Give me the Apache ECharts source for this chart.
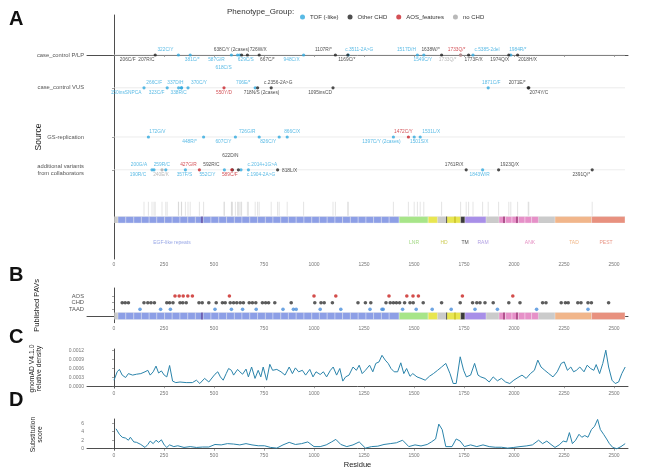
<!DOCTYPE html>
<html>
<head>
<meta charset="utf-8">
<script src="https://cdn.jsdelivr.net/npm/echarts@6/dist/echarts.min.js"></script>
<style>
html, body { margin: 0; padding: 0; background: #fff; }
#main { width: 649px; height: 470px; }
</style>
</head>
<body>
<div id="main"></div>
<script>
var proteinLength = 2555;
var xTicks = [0, 250, 500, 750, 1000, 1250, 1500, 1750, 2000, 2250, 2500];

var groupNames = ['TOF (-like)', 'Other CHD', 'AOS_features', 'no CHD'];
var groupColors = ['#2fa9de', '#222222', '#c8232b', '#a8a8a8'];

var sourceNames = ['case_control P/LP', 'case_control VUS', 'GS-replication', 'additional variants\nfrom collaborators'];

// groups: 0 TOF, 1 other CHD, 2 AOS, 3 no CHD
var plpPos = [206, 322, 381, 587, 618, 629, 638, 667, 726, 948, 1107, 1171, 1169, 1517, 1549, 1638, 1733, 1733, 1773, 1795, 1974, 1984, 2018];
var plpText = ['206C/F  207R/C', '322C/Y', '381C/*', '587G/R', '618C/S', '629C/S', '638C/Y (2cases)', '667C/*', '726W/X', '948C/X', '1107R/*', 'c.3511-2A>G', '1169C/*', '1517D/H', '1549C/Y', '1638W/*', '1733Q/*', '1733Q/*', '1773F/X', 'c.5385-2del', '1974Q/X', '1984R/*', '2018H/X'];
var plpGroup = [1, 0, 0, 0, 0, 0, 1, 1, 1, 0, 1, 0, 1, 0, 0, 1, 2, 3, 1, 0, 1, 0, 1];

var vusPos = [150, 266, 323, 337, 338, 370, 550, 706, 718, 786, 1095, 1871, 2071, 2074];
var vusText = ['150insSNPCA', '266C/F', '323C/F', '337D/H', '338R/C', '370C/Y', '550Y/D', '706E/*', '718N/S (2cases)', 'c.2356-2A>G', '1095insCD', '1871C/F', '2071E/*', '2074Y/C'];
var vusGroup = [0, 0, 0, 0, 0, 0, 2, 0, 1, 1, 1, 0, 1, 1];

var gsPos = [172, 448, 607, 726, 826, 866, 1397, 1472, 1501, 1531];
var gsText = ['172G/V', '448R/*', '607C/Y', '726G/R', '826C/Y', '866C/X', '1397C/Y (2cases)', '1472C/Y', '1501S/X', '1531L/X'];
var gsGroup = [0, 0, 0, 0, 0, 0, 0, 2, 0, 0];

var addPos = [200, 190, 259, 240, 357, 427, 552, 592, 589, 622, 672, 635, 818, 1761, 1843, 1923, 2391];
var addText = ['200G/A', '190R/C', '259R/C', '240E/K', '357F/S', '427G/R', '552C/Y', '592R/C', '589C/F', '622D/N', 'c.2014+1G>A', 'c.1904-2A>G', '818L/X', '1761R/X', '1843W/R', '1923Q/X', '2391Q/*'];
var addGroup = [0, 0, 0, 3, 0, 2, 0, 1, 2, 1, 0, 0, 1, 1, 0, 1, 1];

// published PAVs (panel B)
var pavAOS = [305, 326, 346, 369, 392, 577, 1000, 1109, 1375, 1464, 1495, 1522, 1742, 1994];
var pavCHD = [41, 56, 72, 150, 169, 185, 202, 264, 278, 295, 330, 344, 361, 425, 441, 474, 511, 542, 556, 581, 598, 614, 631, 647, 676, 692, 709, 742, 758, 773, 804, 886, 1004, 1035, 1051, 1092, 1220, 1257, 1284, 1360, 1381, 1397, 1412, 1428, 1453, 1480, 1496, 1546, 1638, 1731, 1793, 1814, 1830, 1855, 1896, 1974, 2030, 2143, 2160, 2236, 2257, 2271, 2319, 2335, 2370, 2387, 2473];
var pavTAAD = [130, 233, 282, 505, 587, 643, 711, 845, 897, 911, 1031, 1134, 1280, 1340, 1346, 1443, 1511, 1591, 1686, 1805, 1917, 2113, 2370];
var pavNames = ['TAAD', 'CHD', 'AOS'];

// domains
var egfRepeatStart = [20, 59, 99, 137, 176, 214, 253, 291, 330, 369, 407, 446, 485, 524, 563, 602, 640, 679, 718, 757, 795, 834, 872, 911, 950, 989, 1027, 1066, 1105, 1143, 1182, 1221, 1260, 1298, 1337, 1376, 1426];
var ankRepeatStart = [1925, 1958, 1990, 2022, 2055, 2088, 2122];
var domainSegName = ['LNR', 'HD', 'HD', 'TM', 'RAM', 'TAD', 'PEST'];
var domainSegStart = [1426, 1571, 1663, 1733, 1755, 2205, 2388];
var domainSegEnd = [1571, 1617, 1733, 1755, 1860, 2388, 2555];
var markRes = [440, 1663, 1705, 1950, 2015];
var markDomain = ['EGF', 'HD', 'HDlight', 'ANK', 'ANK'];
var domainLabel = ['EGF-like repeats', 'LNR', 'HD', 'TM', 'RAM', 'ANK', 'TAD', 'PEST'];
var domainLabelKey = ['EGF', 'LNR', 'HD', 'TM', 'RAM', 'ANK', 'TAD', 'PEST'];
var domainLabelAt = [290, 1500, 1650, 1755, 1845, 2080, 2300, 2460];

// gnomAD v4.1.0 relative density (panel C)
var gnomadDensity = [[0, 0.0002], [16, 0.00048], [27, 0.00056], [41, 0.00037], [58, 0.00029], [72, 0.00042], [93, 0.00037], [113, 0.0004], [134, 0.00042], [155, 0.00048], [169, 0.00053], [181, 0.00037], [196, 0.00048], [210, 0.00067], [223, 0.00044], [237, 0.00051], [251, 0.00037], [264, 0.00031], [278, 0.00069], [293, 0.00017], [309, 0.00012], [330, 0.00014], [361, 0.00012], [392, 0.00012], [412, 0.0002], [429, 0.00009], [453, 0.00026], [474, 0.00014], [505, 0.0004], [519, 0.00048], [532, 0.00031], [546, 0.0002], [561, 0.00042], [573, 0.00059], [587, 0.00053], [598, 0.00037], [618, 0.00056], [629, 0.00048], [643, 0.0004], [660, 0.00057], [672, 0.00031], [688, 0.00064], [705, 0.00026], [721, 0.00053], [734, 0.00031], [746, 0.00064], [763, 0.0002], [779, 0.00073], [793, 0.00053], [814, 0.00056], [835, 0.00048], [855, 0.00037], [876, 0.00064], [892, 0.00042], [907, 0.00061], [923, 0.00048], [942, 0.00053], [958, 0.00037], [979, 0.00056], [995, 0.00031], [1010, 0.00048], [1031, 0.00039], [1047, 0.00048], [1063, 0.00031], [1082, 0.00053], [1096, 0.00064], [1113, 0.00037], [1129, 0.00059], [1144, 0.00017], [1158, 0.00031], [1175, 0.00037], [1195, 0.00064], [1212, 0.00053], [1226, 0.0007], [1241, 0.00042], [1257, 0.00053], [1278, 0.0007], [1294, 0.00048], [1309, 0.00076], [1325, 0.00081], [1340, 0.00103], [1356, 0.00087], [1371, 0.00076], [1385, 0.00059], [1401, 0.00048], [1418, 0.00048], [1434, 0.00078], [1449, 0.00042], [1463, 0.00059], [1480, 0.00033], [1494, 0.00042], [1515, 0.00031], [1535, 0.00026], [1556, 0.0002], [1577, 0.00033], [1597, 0.00042], [1618, 0.00053], [1638, 0.00064], [1659, 0.00076], [1680, 0.00042], [1696, 0.00009], [1711, 0.00009], [1731, 0.00098], [1748, 0.00053], [1762, 0.00031], [1783, 0.00037], [1803, 0.00076], [1820, 0.00037], [1834, 0.00031], [1855, 0.00026], [1876, 0.00014], [1896, 0.00031], [1917, 0.00018], [1937, 0.00026], [1958, 0.00014], [1979, 0.00009], [1999, 0.0002], [2020, 0.00029], [2040, 0.00037], [2061, 0.00026], [2082, 0.00042], [2102, 0.00053], [2119, 0.00087], [2135, 0.00064], [2154, 0.00053], [2174, 0.00042], [2195, 0.00031], [2216, 0.00048], [2236, 0.00076], [2251, 0.00081], [2267, 0.00053], [2284, 0.00064], [2298, 0.00048], [2312, 0.00053], [2329, 0.00064], [2350, 0.00048], [2366, 0.0007], [2383, 0.00059], [2399, 0.00053], [2411, 0.00072], [2428, 0.00042], [2444, 0.00076], [2459, 0.0012], [2473, 0.00064], [2490, 0.0002], [2506, 0.00009], [2523, 0.00014], [2539, 0.00042], [2556, 0.00064]];

// substitution score (panel D)
var substitutionScore = [[10, 4.7], [16, 4.4], [27, 3.4], [41, 2.7], [58, 2.5], [72, 2.0], [82, 2.7], [99, 1.6], [113, 1.5], [134, 1.0], [155, 0.3], [169, 1.0], [181, 1.8], [196, 1.2], [210, 2.0], [223, 1.5], [237, 2.1], [251, 0.9], [264, 0.3], [278, 0.9], [299, 0.5], [319, 0.7], [350, 0.3], [381, 0.5], [412, 0.3], [443, 0.4], [474, 0.4], [505, 1.0], [536, 0.9], [567, 1.2], [598, 1.1], [629, 0.9], [660, 1.2], [690, 0.9], [721, 0.7], [752, 0.7], [783, 0.3], [814, 0.15], [845, 0.9], [876, 1.5], [907, 1.0], [938, 1.2], [969, 1.6], [1000, 0.5], [1031, 0.5], [1061, 0.9], [1088, 1.6], [1109, 2.2], [1134, 1.0], [1164, 0.5], [1195, 0.9], [1226, 1.6], [1257, 0.15], [1288, 0.5], [1319, 0.6], [1350, 1.0], [1381, 1.2], [1412, 1.4], [1443, 2.0], [1474, 0.5], [1505, 0.9], [1535, 0.65], [1566, 1.0], [1587, 1.6], [1608, 2.3], [1624, 5.8], [1641, 4.5], [1659, 0.5], [1690, 0.5], [1711, 2.3], [1731, 1.8], [1752, 0.5], [1783, 0.9], [1814, 0.5], [1845, 0.9], [1876, 0.5], [1906, 0.35], [1937, 0.35], [1968, 0.15], [1999, 0.3], [2030, 0.5], [2061, 0.65], [2092, 0.9], [2123, 2.0], [2143, 1.2], [2164, 1.8], [2185, 1.0], [2205, 0.3], [2226, 0.9], [2246, 1.8], [2263, 1.6], [2277, 3.8], [2292, 1.2], [2308, 2.0], [2325, 3.4], [2339, 2.7], [2354, 3.1], [2370, 2.7], [2387, 4.5], [2403, 5.3], [2418, 6.9], [2432, 4.5], [2448, 3.4], [2463, 2.3], [2477, 1.2], [2494, 0.3], [2514, 0.0], [2535, 0.5], [2556, 1.2]];

/* ---------- layout (not data) ---------- */
var FONT = 'Liberation Sans, Arial, sans-serif';
var trackY = [0, 2, 5, 7];
// label nudges in px [dx, dy]
var plpNudge = [[-18, 5], [-13, -5], [2, 5], [-15, 5], [-14, 13], [6, 5], [-10, -5], [20, 5], [-1, -5], [-12, 5], [-12, -5], [11, -5], [-1, 5], [-11, -5], [-1, 5], [-11, -5], [-4, -5], [-13, 5], [5, 5], [14, -5], [-9, 5], [7, -5], [10, 5]];
var vusNudge = [[-18, 5], [-13, -5], [-22, 5], [-6, -5], [-3, 5], [11, -5], [0, 5], [-12, -5], [4, 5], [7, -5], [-13, 5], [3, -5], [-11, -5], [10, 5]];
var gsNudge = [[9, -5], [-14, 5], [-12, 5], [-12, -5], [-11, 5], [5, -5], [-12, 5], [-5, -5], [5, 5], [11, -5]];
var addNudge = [[-15, -5], [-14, 5], [-4, -5], [-1, 5], [-1, 5], [-11, -5], [-17, 5], [-21, -5], [-2, 5], [-8, -14], [14, -5], [20, 5], [12, 1], [-12, -5], [-3, 5], [11, -5], [-11, 5]];

var domainColor = { none: '#cbcbcb', EGF: '#8d9fe6', LNR: '#a7e589', HD: '#e8e650', TM: '#3a3a3a', RAM: '#a88fe8', ANK: '#e690c8', TAD: '#f1b68b', PEST: '#e8917f' };
var domainTextColor = { EGF: '#7d90e0', LNR: '#8ccf66', HD: '#c4c233', TM: '#222222', RAM: '#9c86dc', ANK: '#de72b3', TAD: '#eda266', PEST: '#e27a66' };
var markColor = { EGF: '#4a2581', HD: '#555555', HDlight: '#b8ad10', ANK: '#7c1152' };

var rows = [
  { pos: plpPos, text: plpText, group: plpGroup, nudge: plpNudge },
  { pos: vusPos, text: vusText, group: vusGroup, nudge: vusNudge },
  { pos: gsPos, text: gsText, group: gsGroup, nudge: gsNudge },
  { pos: addPos, text: addText, group: addGroup, nudge: addNudge }
];

var barSegments = [{ start: 1, end: proteinLength, key: 'none' }];
for (var i = 0; i < egfRepeatStart.length - 1; i++) {
  barSegments.push({ start: egfRepeatStart[i], end: egfRepeatStart[i + 1], key: 'EGF' });
}
for (i = 0; i < ankRepeatStart.length - 1; i++) {
  barSegments.push({ start: ankRepeatStart[i], end: ankRepeatStart[i + 1], key: 'ANK' });
}
for (i = 0; i < domainSegName.length; i++) {
  barSegments.push({ start: domainSegStart[i], end: domainSegEnd[i], key: domainSegName[i] });
}

function domainBar(ai, yv, h) {
  return {
    type: 'custom', xAxisIndex: ai, yAxisIndex: ai, silent: true, z: 2,
    data: barSegments.map(function (s) { return [s.start, s.end, yv]; }),
    renderItem: function (params, api) {
      var s = barSegments[params.dataIndex];
      var a = api.coord([api.value(0), api.value(2)]);
      var b = api.coord([api.value(1), api.value(2)]);
      return {
        type: 'rect',
        shape: { x: a[0], y: a[1] - h / 2, width: b[0] - a[0], height: h },
        style: { fill: domainColor[s.key], stroke: s.key === 'none' ? null : 'rgba(255,255,255,0.85)', lineWidth: 0.4 }
      };
    }
  };
}

function domainMarks(ai, yv, h) {
  return {
    type: 'custom', xAxisIndex: ai, yAxisIndex: ai, silent: true, z: 3,
    data: markRes.map(function (r) { return [r, yv]; }),
    renderItem: function (params, api) {
      var p = api.coord([api.value(0), api.value(1)]);
      return {
        type: 'line',
        shape: { x1: p[0], y1: p[1] - h / 2, x2: p[0], y2: p[1] + h / 2 },
        style: { stroke: markColor[markDomain[params.dataIndex]], lineWidth: 1 }
      };
    }
  };
}

function xAxisFor(gi, extra) {
  var ax = {
    type: 'value', gridIndex: gi, min: -135, max: 2570,
    axisLine: { show: true, lineStyle: { color: '#3a3a3a', width: 0.9 } },
    axisTick: { show: true, customValues: xTicks, length: 2, lineStyle: { color: '#666', width: 0.6 } },
    axisLabel: {
      customValues: xTicks, fontSize: 5, color: '#777', margin: 3, fontFamily: FONT,
      formatter: function (v) { return String(v); }
    },
    splitLine: { show: false }
  };
  for (var k in extra) ax[k] = extra[k];
  return ax;
}

var variantSeries = groupNames.map(function (g, gi) {
  var data = [];
  rows.forEach(function (row, ri) {
    row.pos.forEach(function (p, k) {
      if (row.group[k] !== gi) return;
      data.push({ value: [p, trackY[ri]], label: { formatter: row.text[k], offset: row.nudge[k] } });
    });
  });
  return {
    name: g, type: 'scatter', xAxisIndex: 0, yAxisIndex: 0, symbolSize: 3.2, z: 6,
    itemStyle: { color: groupColors[gi] },
    label: { show: true, position: 'inside', fontSize: 4.8, color: groupColors[gi], fontFamily: FONT },
    data: data
  };
});

var allPos = [];
rows.forEach(function (row) { row.pos.forEach(function (p) { if (allPos.indexOf(p) < 0) allPos.push(p); }); });

var chart = echarts.init(document.getElementById('main'), null, { renderer: 'canvas' });

var option = {
  animation: false,
  backgroundColor: '#fff',
  textStyle: { fontFamily: FONT },
  legend: {
    data: groupNames, left: 295, top: 9, icon: 'circle', itemWidth: 5, itemHeight: 5, itemGap: 9,
    textStyle: { fontSize: 6, color: '#333', fontFamily: FONT }
  },
  graphic: [
    { type: 'text', left: 227, top: 8, style: { text: 'Phenotype_Group:', font: '8px ' + FONT, fill: '#333' } },
    { type: 'text', left: 9, top: 9, style: { text: 'A', font: 'bold 20px ' + FONT, fill: '#111' } },
    { type: 'text', left: 9, top: 265, style: { text: 'B', font: 'bold 20px ' + FONT, fill: '#111' } },
    { type: 'text', left: 9, top: 327, style: { text: 'C', font: 'bold 20px ' + FONT, fill: '#111' } },
    { type: 'text', left: 9, top: 390, style: { text: 'D', font: 'bold 20px ' + FONT, fill: '#111' } }
  ],
  grid: [
    { left: 87, top: 15, width: 541, height: 244 },
    { left: 87, top: 288, width: 541, height: 34.7 },
    { left: 87, top: 349, width: 541, height: 39 },
    { left: 87, top: 419, width: 541, height: 33 }
  ],
  xAxis: [
    xAxisFor(0, {}),
    xAxisFor(1, {}),
    xAxisFor(2, {}),
    xAxisFor(3, { name: 'Residue', nameLocation: 'middle', nameGap: 11, nameMoveOverlap: false, nameTextStyle: { fontSize: 7.5, color: '#222', fontFamily: FONT } })
  ],
  yAxis: [
    {
      type: 'value', gridIndex: 0, inverse: true, min: -2.44, max: 12.44,
      axisLine: { show: true, lineStyle: { color: '#3a3a3a', width: 0.9 } },
      axisTick: { show: true, customValues: trackY, length: 2, lineStyle: { color: '#666', width: 0.6 } },
      axisLabel: {
        customValues: trackY, fontSize: 5.8, color: '#555', margin: 3, lineHeight: 6.5, fontFamily: FONT,
        formatter: function (v) { return sourceNames[trackY.indexOf(v)]; }
      },
      splitLine: { show: false },
      name: 'Source', nameLocation: 'middle', nameGap: 44, nameMoveOverlap: false,
      nameTextStyle: { fontSize: 8.5, color: '#222', fontFamily: FONT }
    },
    {
      type: 'value', gridIndex: 1, min: -1, max: 4.2,
      axisLine: { show: true, lineStyle: { color: '#3a3a3a', width: 0.9 } },
      axisTick: { show: true, customValues: [1, 2, 3], length: 2, lineStyle: { color: '#666', width: 0.6 } },
      axisLabel: {
        customValues: [1, 2, 3], fontSize: 5.8, color: '#555', margin: 3, fontFamily: FONT,
        formatter: function (v) { return pavNames[v - 1]; }
      },
      splitLine: { show: false },
      name: 'Published PAVs', nameLocation: 'middle', nameGap: 46, nameMoveOverlap: false,
      nameTextStyle: { fontSize: 7.5, color: '#222', fontFamily: FONT }
    },
    {
      type: 'value', gridIndex: 2, min: -0.00006, max: 0.00124,
      axisLine: { show: true, lineStyle: { color: '#3a3a3a', width: 0.9 } },
      axisTick: { show: true, customValues: [0, 0.0003, 0.0006, 0.0009, 0.0012], length: 2, lineStyle: { color: '#666', width: 0.6 } },
      axisLabel: {
        customValues: [0, 0.0003, 0.0006, 0.0009, 0.0012], fontSize: 5, color: '#777', margin: 3, fontFamily: FONT,
        formatter: function (v) { return v.toFixed(4); }
      },
      splitLine: { show: false },
      name: 'gnomAD V4.1.0\nrelative density', nameLocation: 'middle', nameGap: 44, nameMoveOverlap: false,
      nameTextStyle: { fontSize: 6.8, lineHeight: 7.5, color: '#222', fontFamily: FONT }
    },
    {
      type: 'value', gridIndex: 3, min: -0.3, max: 7.0,
      axisLine: { show: true, lineStyle: { color: '#3a3a3a', width: 0.9 } },
      axisTick: { show: true, customValues: [0, 2, 4, 6], length: 2, lineStyle: { color: '#666', width: 0.6 } },
      axisLabel: { customValues: [0, 2, 4, 6], fontSize: 5, color: '#777', margin: 3, fontFamily: FONT },
      splitLine: { show: false },
      name: 'Substitution\nscore', nameLocation: 'middle', nameGap: 43, nameMoveOverlap: false,
      nameTextStyle: { fontSize: 6.8, lineHeight: 7.5, color: '#222', fontFamily: FONT }
    }
  ],
  series: [
    {
      type: 'custom', xAxisIndex: 0, yAxisIndex: 0, silent: true, z: 1,
      data: trackY.map(function (t) { return [t]; }),
      renderItem: function (params, api) {
        var a = api.coord([0, api.value(0)]);
        var b = api.coord([proteinLength, api.value(0)]);
        return { type: 'line', shape: { x1: a[0], y1: a[1], x2: b[0], y2: b[1] }, style: { stroke: '#e4e4e4', lineWidth: 0.7 } };
      }
    },
    {
      type: 'custom', xAxisIndex: 0, yAxisIndex: 0, silent: true, z: 1,
      data: allPos.map(function (p) { return [p, 8.95, 9.8]; }),
      renderItem: function (params, api) {
        var a = api.coord([api.value(0), api.value(1)]);
        var b = api.coord([api.value(0), api.value(2)]);
        return { type: 'line', shape: { x1: a[0], y1: a[1], x2: b[0], y2: b[1] }, style: { stroke: '#c9c9c9', lineWidth: 0.5 } };
      }
    },
    domainBar(0, 10.05, 6.5),
    domainMarks(0, 10.05, 6.5),
    {
      type: 'scatter', xAxisIndex: 0, yAxisIndex: 0, symbolSize: 0, silent: true, z: 4,
      data: domainLabel.map(function (n, k) {
        return { value: [domainLabelAt[k], 11.45], label: { formatter: n, color: domainTextColor[domainLabelKey[k]] } };
      }),
      label: { show: true, position: 'inside', fontSize: 5, fontFamily: FONT }
    }
  ].concat(variantSeries).concat([
    domainBar(1, 0, 7),
    domainMarks(1, 0, 7),
    {
      type: 'scatter', xAxisIndex: 1, yAxisIndex: 1, symbolSize: 3.6, z: 5, silent: true,
      itemStyle: { color: '#4a8fdc' },
      data: pavTAAD.map(function (r) { return [r, 1]; })
    },
    {
      type: 'scatter', xAxisIndex: 1, yAxisIndex: 1, symbolSize: 3.6, z: 5, silent: true,
      itemStyle: { color: '#333333' },
      data: pavCHD.map(function (r) { return [r, 2]; })
    },
    {
      type: 'scatter', xAxisIndex: 1, yAxisIndex: 1, symbolSize: 3.6, z: 5, silent: true,
      itemStyle: { color: '#c8201e' },
      data: pavAOS.map(function (r) { return [r, 3]; })
    },
    {
      type: 'line', xAxisIndex: 2, yAxisIndex: 2, showSymbol: false, silent: true,
      lineStyle: { color: '#2b84ab', width: 1 },
      data: gnomadDensity
    },
    {
      type: 'line', xAxisIndex: 3, yAxisIndex: 3, showSymbol: false, silent: true,
      lineStyle: { color: '#2b84ab', width: 1 },
      data: substitutionScore
    }
  ])
};

chart.setOption(option);
</script>
</body>
</html>
